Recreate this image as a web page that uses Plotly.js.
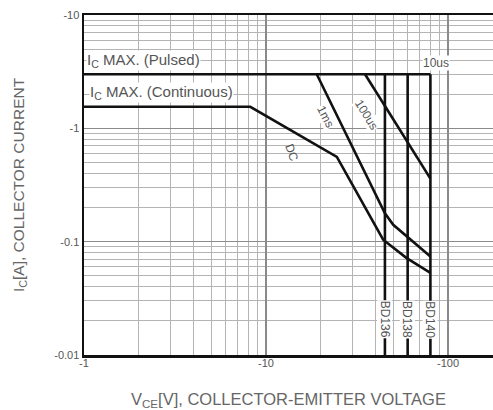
<!DOCTYPE html>
<html>
<head>
<meta charset="utf-8">
<script src="https://cdn.plot.ly/plotly-3.0.1.min.js"></script>
<style>html,body{margin:0;padding:0;background:#fff}#chart{width:493px;height:410px}</style>
</head>
<body>
<div id="chart"></div>
<script>
// Safe operating area (magnitudes; axes labelled negative for PNP)
const pulsedV = [1, 80];
const pulsedI = [3, 3];
const dcV = [1, 8.2, 24.5, 44, 59, 80];
const dcI = [1.55, 1.55, 0.56, 0.104, 0.072, 0.053];
const ms1V = [19, 45, 50, 80];
const ms1I = [3, 0.178, 0.141, 0.074];
const us100V = [35, 80];
const us100I = [3, 0.36];
const bdNames = ['BD136', 'BD138', 'BD140'];
const bdV = [45, 60, 80];
const bdTopI = 3;
const bdBottomI = 0.01;

const xTickVals = [1, 10, 100];
const xTickText = ['-1', '-10', '-100'];
const yTickVals = [0.01, 0.1, 1, 10];
const yTickText = ['-0.01', '-0.1', '-1', '-10'];

const xMinor = [], yMinor = [];
[1, 10, 100].forEach(d => { for (let k = 2; k <= 9; k++) xMinor.push(k * d); });
[0.01, 0.1, 1].forEach(d => { for (let k = 2; k <= 9; k++) yMinor.push(k * d); });

const lineStyle = {color: '#111', width: 2.6};
const traces = [
  {x: pulsedV, y: pulsedI, mode: 'lines', line: lineStyle, name: 'Pulsed'},
  {x: dcV, y: dcI, mode: 'lines', line: lineStyle, name: 'DC'},
  {x: ms1V, y: ms1I, mode: 'lines', line: lineStyle, name: '1ms'},
  {x: us100V, y: us100I, mode: 'lines', line: lineStyle, name: '100us'}
];
bdV.forEach((v, i) => traces.push({x: [v, v], y: [bdTopI, bdBottomI], mode: 'lines', line: lineStyle, name: bdNames[i]}));

const FAM = 'Liberation Sans, Arial, sans-serif';
const lab = {family: FAM, size: 12, color: '#555'};
const L = Math.log10;
const annotations = [
  {x: L(1.03), y: L(4.0), text: 'I<sub>C</sub> MAX. (Pulsed)', xanchor: 'left', bgcolor: '#fff', font: {family: FAM, size: 15, color: '#555'}},
  {x: L(1.07), y: L(2.08), text: 'I<sub>C</sub> MAX. (Continuous)', xanchor: 'left', bgcolor: '#fff', font: {family: FAM, size: 15, color: '#555'}},
  {x: L(86), y: L(3.76), text: '10us', bgcolor: '#fff'},
  {x: L(13.9), y: L(0.61), text: 'DC', textangle: 70},
  {x: L(21.3), y: L(1.26), text: '1ms', textangle: 63, bgcolor: '#fff'},
  {x: L(35.7), y: L(1.31), text: '100us', textangle: 58, bgcolor: '#fff'}
].map(a => Object.assign({xref: 'x', yref: 'y', showarrow: false, font: lab, borderpad: 0}, a));
bdNames.forEach((n, i) => annotations.push({
  xref: 'x', yref: 'y', x: L(bdV[i]), y: L(0.0205), text: n, textangle: 90,
  showarrow: false, bgcolor: '#fff', borderpad: 0, font: {family: FAM, size: 12, color: '#555'}
}));

const tickFont = {family: FAM, size: 11, color: '#555'};
const layout = {
  width: 493, height: 410,
  margin: {l: 84, r: 0, t: 15, b: 55},
  paper_bgcolor: '#fff', plot_bgcolor: '#fff',
  showlegend: false,
  xaxis: {
    type: 'log', range: [0, 2.247], tickmode: 'array', tickvals: xTickVals, ticktext: xTickText,
    showgrid: true, gridcolor: '#8a8a8a', gridwidth: 1.2,
    minor: {tickmode: 'array', tickvals: xMinor, showgrid: true, gridcolor: '#b4b4b4', gridwidth: 1, ticks: ''},
    showline: true, linecolor: '#111', linewidth: 2.5, mirror: true, ticks: '', zeroline: false,
    tickfont: tickFont, automargin: false, ticklabelstandoff: -4,
    title: {text: 'V<sub>CE</sub>[V], COLLECTOR-EMITTER VOLTAGE', font: {family: FAM, size: 16.5, color: '#666'}, standoff: 26}
  },
  yaxis: {
    type: 'log', range: [-2, 1], tickmode: 'array', tickvals: yTickVals, ticktext: yTickText,
    showgrid: true, gridcolor: '#8a8a8a', gridwidth: 1.2,
    minor: {tickmode: 'array', tickvals: yMinor, showgrid: true, gridcolor: '#b4b4b4', gridwidth: 1, ticks: ''},
    showline: true, linecolor: '#111', linewidth: 2.5, ticks: '', zeroline: false,
    tickfont: tickFont, automargin: false,
    title: {text: 'I<sub>C</sub>[A], COLLECTOR CURRENT', font: {family: FAM, size: 15.5, color: '#666'}, standoff: 26}
  },
  annotations: annotations
};
Plotly.newPlot('chart', traces, layout, {staticPlot: true, displayModeBar: false});
</script>
</body>
</html>
